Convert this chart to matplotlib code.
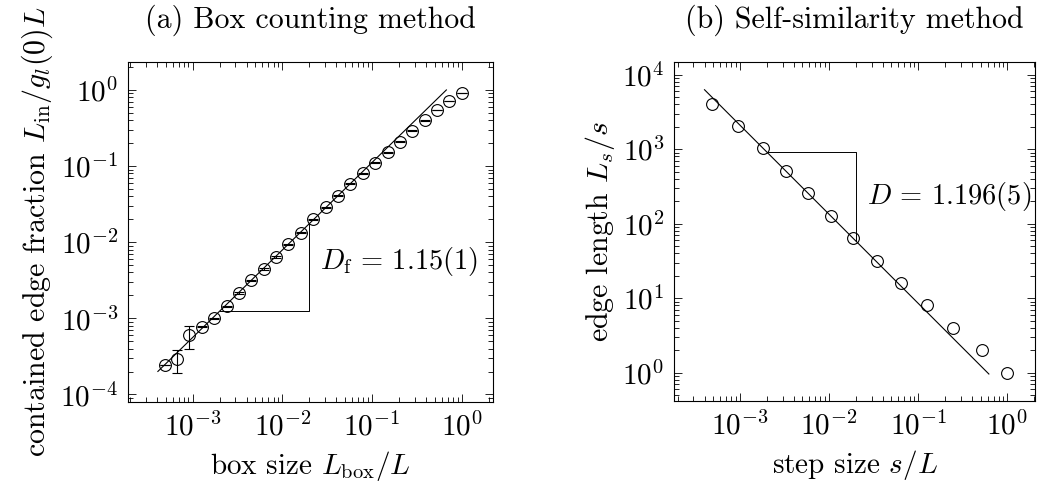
import numpy as np
import matplotlib
matplotlib.use('Agg')
import matplotlib.pyplot as plt

plt.rcParams['font.family'] = ['cmr10']
plt.rcParams['mathtext.fontset'] = 'cm'
plt.rcParams['axes.formatter.use_mathtext'] = True
plt.rcParams['font.size'] = 21

# (a) box counting
box_size = [4.88e-4, 6.71e-4, 9.22e-4, 1.27e-3, 1.74e-3, 2.39e-3, 3.29e-3, 4.52e-3,
            6.21e-3, 8.53e-3, 1.17e-2, 1.61e-2, 2.21e-2, 3.04e-2, 4.17e-2, 5.73e-2,
            7.87e-2, 0.108, 0.149, 0.204, 0.281, 0.386, 0.530, 0.728, 1.0]
edge_frac = [2.4e-4, 2.9e-4, 6.0e-4, 7.8e-4, 1.0e-3, 1.44e-3, 2.15e-3, 3.15e-3,
             4.45e-3, 6.4e-3, 9.4e-3, 1.33e-2, 2.0e-2, 2.87e-2, 4.1e-2, 5.9e-2,
             8.1e-2, 0.111, 0.152, 0.209, 0.29, 0.40, 0.54, 0.72, 0.91]
edge_lo = [0.0, 1.0e-4, 2.0e-4, 2e-5, 2e-5, 3e-5, 4e-5, 6e-5,
           8e-5, 1.2e-4, 1.8e-4, 2.5e-4, 3.5e-4, 5e-4, 7e-4, 1.0e-3,
           1.4e-3, 1.9e-3, 2.6e-3, 3.5e-3, 4.8e-3, 6.5e-3, 0.0, 0.0, 0.0]
edge_hi = [0.0, 0.9e-4, 1.85e-4, 2e-5, 2e-5, 3e-5, 4e-5, 6e-5,
           8e-5, 1.2e-4, 1.8e-4, 2.5e-4, 3.5e-4, 5e-4, 7e-4, 1.0e-3,
           1.4e-3, 1.9e-3, 2.6e-3, 3.5e-3, 4.8e-3, 6.5e-3, 0.0, 0.0, 0.0]
Df = 1.15
fit_a_x = [4.1e-4, 0.675]
fit_a_c = 1.575

# (b) self-similarity
step_size = [4.9e-4, 9.5e-4, 1.82e-3, 3.3e-3, 5.75e-3, 1.05e-2, 1.86e-2, 3.47e-2,
             6.46e-2, 0.126, 0.245, 0.513, 1.0]
edge_len = [4096, 2048, 1024, 512, 256, 128, 64, 32, 16, 8, 4, 2, 1]
D = 1.196
fit_b_x = [4.0e-4, 0.62]
fit_b_c = 0.542

fig = plt.figure(figsize=(10.4, 4.86), dpi=100)
ax1 = fig.add_axes([0.1231, 0.1728, 0.3510, 0.6996])
ax2 = fig.add_axes([0.6481, 0.1749, 0.3471, 0.6975])

for ax in (ax1, ax2):
    ax.set_xscale('log')
    ax.set_yscale('log')
    ax.tick_params(which='both', direction='in', top=True, right=True, width=0.6)
    ax.tick_params(which='major', length=5.5, pad=7, labelsize=21)
    ax.tick_params(which='minor', length=3.5)
    for s in ax.spines.values():
        s.set_linewidth(0.8)

# panel a
fx = np.array(fit_a_x)
ax1.plot(fx, fit_a_c * fx ** Df, color='black', lw=0.8)
ax1.errorbar(box_size, edge_frac, yerr=[edge_lo, edge_hi], fmt='o', mfc='none',
             mec='black', ecolor='black', ms=8.5, mew=0.8, elinewidth=0.8,
             capsize=3.9, capthick=0.8)
tx = np.array([0.002, 0.02])
ty = fit_a_c * tx ** Df
ax1.plot([tx[0], tx[1], tx[1]], [ty[0], ty[0], ty[1]], color='black', lw=0.7)
ax1.annotate(r'$D_\mathrm{f}\,=\,1.15(1)$', xy=(0.02, 10 ** -2.26), xytext=(8, 0),
             textcoords='offset points', ha='left', va='center', fontsize=20.5)
ax1.set_xlim(10 ** -3.72, 10 ** 0.35)
ax1.set_ylim(10 ** -4.10, 10 ** 0.368)
ax1.set_xticks([1e-3, 1e-2, 1e-1, 1])
ax1.set_yticks([1e-4, 1e-3, 1e-2, 1e-1, 1])
ax1.set_xlabel(r'box size $L_\mathrm{box}/L$', labelpad=6)
ax1.set_ylabel(r'contained edge fraction $L_\mathrm{in}/g_l(0)L$', fontsize=21.5)
ax1.text(0.5, 1.1, '(a) Box counting method', transform=ax1.transAxes,
         ha='center', va='baseline', fontsize=21.5)

# panel b
fx = np.array(fit_b_x)
ax2.plot(fx, fit_b_c * fx ** -D, color='black', lw=0.8)
ax2.plot(step_size, edge_len, 'o', mfc='none', mec='black', ms=8.5, mew=0.8)
tx = np.array([0.002, 0.02])
ty = fit_b_c * tx ** -D
ax2.plot([tx[0], tx[1], tx[1]], [ty[0], ty[0], ty[1]], color='black', lw=0.7)
ax2.annotate(r'$D\,=\,1.196(5)$', xy=(0.02, 10 ** 2.36), xytext=(8, 0),
             textcoords='offset points', ha='left', va='center', fontsize=20.5)
ax2.set_xlim(10 ** -3.74, 10 ** 0.31)
ax2.set_ylim(10 ** -0.38, 10 ** 4.17)
ax2.set_xticks([1e-3, 1e-2, 1e-1, 1])
ax2.set_yticks([1, 10, 100, 1e3, 1e4])
ax2.set_xlabel(r'step size $s/L$', labelpad=6)
ax2.set_ylabel(r'edge length $L_s/s$', fontsize=21.5)
ax2.text(0.5, 1.1, '(b) Self-similarity method', transform=ax2.transAxes,
         ha='center', va='baseline', fontsize=21.5)

fig.savefig('out.png', dpi=100)
